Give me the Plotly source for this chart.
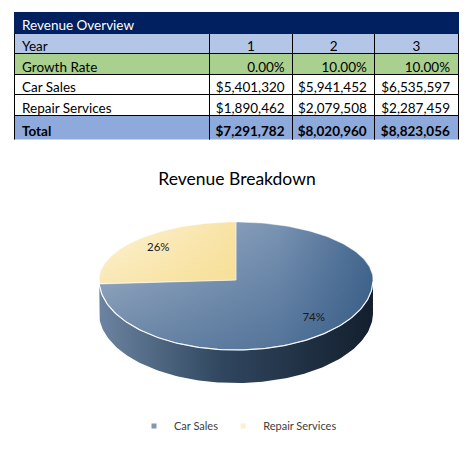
import numpy as np
import plotly.graph_objects as go

# table data
years = [1, 2, 3]
growth = [0.0, 0.10, 0.10]
car_sales = [5401320, 5941452, 6535597]
repair = [1890462, 2079508, 2287459]
totals = [c + r for c, r in zip(car_sales, repair)]

# pie data (year 1)
pie_labels = ["Car Sales", "Repair Services"]
pie_values = [car_sales[0], repair[0]]

WIN_W, WIN_H = 475, 459
OFF = 8  # default body margin of the html page
W, H = WIN_W - OFF, WIN_H - OFF
FONT = "Lato"
TOP = 12
HEAD_H = 21
ROW_H = 20.6


def px_x(v):
    return (v - OFF) / W


def px_y(v):
    return 1 - (v - OFF) / H


fig = go.Figure()

# ---- table, split in two so the Year row can be centred ----
tx = [px_x(14), px_x(458)]
widths = [195, 83, 82, 83]
cell_font = dict(family=FONT, size=13.5, color="black")

split = TOP + HEAD_H + ROW_H
fig.add_trace(go.Table(
    domain=dict(x=tx, y=[px_y(split + 2), px_y(TOP)]),
    columnwidth=widths,
    header=dict(
        values=["Revenue Overview", "", "", ""],
        fill_color="#002060",
        line=dict(color="#002060", width=1),
        align="left",
        font=dict(family=FONT, size=13.5, color="white"),
        height=HEAD_H,
    ),
    cells=dict(
        values=[["Year"]] + [[str(y)] for y in years],
        fill_color="#B4C6E7",
        line=dict(color="black", width=1),
        align=["left", "center", "center", "center"],
        font=cell_font,
        height=ROW_H,
    ),
))

body = [["Car Sales", "Repair Services", "<b>Total</b>"]]
for i in range(len(years)):
    body.append([f"${car_sales[i]:,}", f"${repair[i]:,}", f"<b>${totals[i]:,}</b>"])
row_fill = ["white", "white", "#8EA9DB"]

fig.add_trace(go.Table(
    domain=dict(x=tx, y=[px_y(split + 4 * ROW_H + 4), px_y(split)]),
    columnwidth=widths,
    header=dict(
        values=["Growth Rate"] + [f"{g:.2%}" for g in growth],
        fill_color="#A9D08E",
        line=dict(color="black", width=1),
        align=["left", "right", "right", "right"],
        font=cell_font,
        height=ROW_H,
    ),
    cells=dict(
        values=body,
        fill_color=[row_fill] * 4,
        line=dict(color="black", width=1),
        align=["left", "right", "right", "right"],
        font=cell_font,
        height=ROW_H,
    ),
))

# ---- 3D-looking pie, geometry from the shares ----
cx, cy = 236, 280
rx, ry_top, ry_bot = 137, 58, 70
depth = 33


def ell(t):
    t = np.radians(t)
    s = np.sin(t)
    ry = np.where(s >= 0, ry_top, ry_bot)
    return cx + rx * np.cos(t), cy - ry * s


shares = np.array(pie_values) / sum(pie_values)
cum = np.concatenate([[0], np.cumsum(shares)])
top_scales = [
    [[0, "#A8B8CC"], [0.65, "#7A94B3"], [1, "#46688F"]],
    [[0, "#FDF4DA"], [1, "#F8E3A4"]],
]
# vertical gradients run bottom (0) -> top (1)
shade_scales = [
    [[0, "rgba(40,80,125,0.47)"], [1, "rgba(40,80,125,0)"]],
    [[0, "rgba(246,218,135,0.45)"], [1, "rgba(246,218,135,0)"]],
]
side_scales = [
    [[0, "#6C84A1"], [0.45, "#30465F"], [1, "#131F2D"]],
    [[0, "#E6D49A"], [1, "#C9B26E"]],
]

sides, rims, tops, labels = [], [], [], []
for i in range(len(shares)):
    a0 = 90 - cum[i] * 360
    a1 = 90 - cum[i + 1] * 360
    t = np.linspace(a0, a1, 200)
    ex, ey = ell(t)
    sx = np.concatenate([[cx], ex, [cx]])
    sy = np.concatenate([[cy], ey, [cy]])
    tops.append(go.Scatter(
        x=sx, y=sy, fill="toself", mode="lines", line=dict(width=0),
        fillgradient=dict(type="horizontal", colorscale=top_scales[i]),
        showlegend=False, hoverinfo="skip",
    ))
    tops.append(go.Scatter(
        x=sx, y=sy, fill="toself", mode="lines",
        line=dict(color="rgba(255,255,255,0.55)", width=0.8),
        fillgradient=dict(type="vertical", colorscale=shade_scales[i]),
        showlegend=False, hoverinfo="skip",
    ))
    front = t[np.sin(np.radians(t)) <= 0]
    if len(front) > 1:
        fx, fy = ell(front)
        sides.append(go.Scatter(
            x=np.concatenate([fx, fx[::-1]]), y=np.concatenate([fy, fy[::-1] + depth]),
            fill="toself", mode="lines", line=dict(width=0),
            fillgradient=dict(type="horizontal", colorscale=side_scales[i]),
            showlegend=False, hoverinfo="skip",
        ))
        rims.append(go.Scatter(
            x=fx, y=fy, mode="lines",
            line=dict(color="rgba(255,255,255,0.9)", width=1.2),
            showlegend=False, hoverinfo="skip",
        ))
    mid = (a0 + a1) / 2
    lx = cx + rx * 0.78 * np.cos(np.radians(mid))
    s = np.sin(np.radians(mid))
    ly = cy - (ry_top if s >= 0 else ry_bot) * 0.8 * s
    labels.append((lx, ly, f"{shares[i]:.0%}"))

for tr in sides + tops + rims:
    fig.add_trace(tr)

fig.add_trace(go.Scatter(
    x=[l[0] for l in labels], y=[l[1] for l in labels], text=[l[2] for l in labels],
    mode="text", textfont=dict(family=FONT, size=11.5, color="#1a1a1a"),
    showlegend=False, hoverinfo="skip",
))

leg_colors = ["#8497B0", "#FCF0CF"]
for name, c in zip(pie_labels, leg_colors):
    fig.add_trace(go.Scatter(
        x=[None], y=[None], mode="markers", name=name,
        marker=dict(symbol="square", size=5, color=c),
    ))

fig.update_layout(
    width=W, height=H,
    margin=dict(l=0, r=0, t=0, b=0),
    paper_bgcolor="white", plot_bgcolor="white",
    xaxis=dict(range=[OFF, WIN_W], visible=False, fixedrange=True),
    yaxis=dict(range=[WIN_H, OFF], visible=False, fixedrange=True),
    title=dict(text="Revenue Breakdown", x=px_x(237), xanchor="center",
               y=px_y(179), yanchor="middle",
               font=dict(family=FONT, size=17.5, color="black")),
    legend=dict(orientation="h", x=px_x(238), xanchor="center", y=px_y(426), yanchor="middle",
                font=dict(family=FONT, size=11, color="#404040"),
                itemwidth=30, tracegroupgap=0),
    showlegend=True,
)

fig.write_html("out.html")
